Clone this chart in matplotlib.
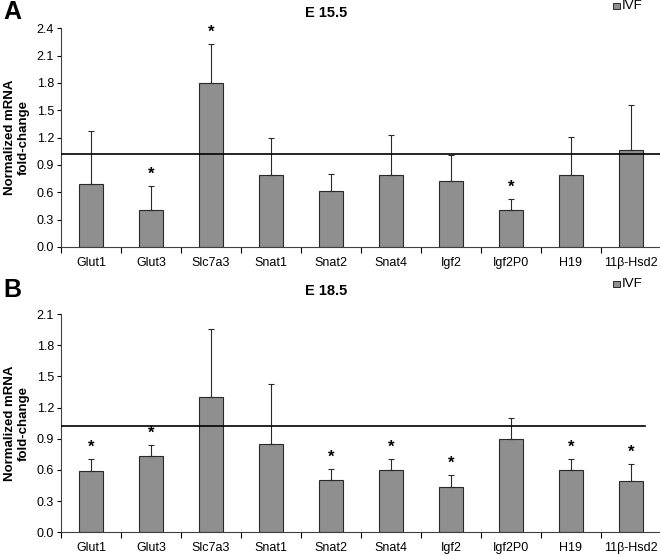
import numpy as np
import matplotlib.pyplot as plt

plt.rcParams['font.family'] = ['Liberation Sans', 'DejaVu Sans']

# Gene names
genes = ['Glut1', 'Glut3', 'Slc7a3', 'Snat1', 'Snat2', 'Snat4', 'Igf2', 'Igf2P0', 'H19', '11β-Hsd2']

# E 15.5 values (mean and upper error)
e155_mean = [0.69, 0.41, 1.80, 0.79, 0.61, 0.79, 0.72, 0.41, 0.79, 1.06]
e155_err = [0.58, 0.26, 0.43, 0.41, 0.19, 0.44, 0.29, 0.12, 0.42, 0.50]
e155_star = [False, True, True, False, False, False, False, True, False, False]

# E 18.5 values
e185_mean = [0.59, 0.73, 1.30, 0.85, 0.50, 0.60, 0.44, 0.90, 0.60, 0.49]
e185_err = [0.12, 0.11, 0.66, 0.58, 0.11, 0.11, 0.11, 0.20, 0.11, 0.17]
e185_star = [True, True, False, False, True, True, True, False, True, True]

ref_line = 1.02

fig = plt.figure(figsize=(6.6, 5.55), dpi=100)


def panel(rect, mean, err, star, ymax, ystep, line_end):
    ax = fig.add_axes(rect)
    x = np.arange(len(genes))
    ax.bar(x, mean, width=0.39, color='#8f8f8f', edgecolor='#2a2a2a', linewidth=0.8, zorder=2)
    ax.errorbar(x, mean, yerr=[np.zeros(len(err)), err], fmt='none', ecolor='#2a2a2a',
                elinewidth=0.8, capsize=2.2, capthick=0.8, zorder=3)
    ax.axhline(ref_line, xmin=0, xmax=line_end, color='black', linewidth=1.2, zorder=4)
    for i in range(len(genes)):
        if star[i]:
            ax.annotate('*', (x[i], mean[i] + err[i]), xytext=(0, 3), textcoords='offset points',
                        ha='center', va='bottom', fontsize=12, fontweight='bold')
    ax.set_xlim(-0.5, len(genes) - 0.5)
    ax.set_ylim(0, ymax)
    ax.set_yticks(np.arange(0, ymax + 0.001, ystep))
    ax.set_yticklabels(['%.1f' % v for v in np.arange(0, ymax + 0.001, ystep)], fontsize=9)
    # x ticks between the categories, labels centered
    ax.set_xticks(np.arange(-0.5, len(genes)), minor=False)
    ax.set_xticklabels([])
    ax.set_xticks(x, minor=True)
    ax.set_xticklabels(genes, minor=True, fontsize=9)
    ax.tick_params(axis='x', which='minor', length=0, pad=7)
    ax.tick_params(axis='x', which='major', length=4, direction='out', width=0.8)
    ax.tick_params(axis='y', length=3, direction='out', width=0.8, pad=2)
    ax.spines['top'].set_visible(False)
    ax.spines['right'].set_visible(False)
    ax.spines['left'].set_color('#404040')
    ax.spines['bottom'].set_color('#404040')
    return ax


axA = panel([0.0924, 0.555, 0.909, 0.394], e155_mean, e155_err, e155_star, 2.4, 0.3, 1.0)
axB = panel([0.0924, 0.041, 0.909, 0.393], e185_mean, e185_err, e185_star, 2.1, 0.3, 0.973)

# Panel labels, titles, y labels, legend
for ax, letter, title, ytop in [(axA, 'A', 'E 15.5', 555 - 12), (axB, 'B', 'E 18.5', 555 - 290)]:
    fig.text(3 / 660, ytop / 555, letter, fontsize=18, fontweight='bold', va='center', ha='left')
    fig.text(326 / 660, (ytop - 1) / 555, title, fontsize=10.5, fontweight='bold', va='center', ha='center')
    # legend box
    fig.patches.append(plt.Rectangle((613 / 660, (ytop + 3) / 555), 7 / 660, 6 / 555,
                                     transform=fig.transFigure, facecolor='#8f8f8f',
                                     edgecolor='#2a2a2a', linewidth=0.7))
    fig.text(622 / 660, (ytop + 6) / 555, 'IVF', fontsize=9.5, va='center', ha='left')
    pos = ax.get_position()
    fig.text(17 / 660, (pos.y0 + pos.y1) / 2, 'Normalized mRNA\nfold-change', rotation=90,
             fontsize=9.5, fontweight='bold', va='center', ha='center', linespacing=1.15)

plt.savefig('out.png', dpi=100)
